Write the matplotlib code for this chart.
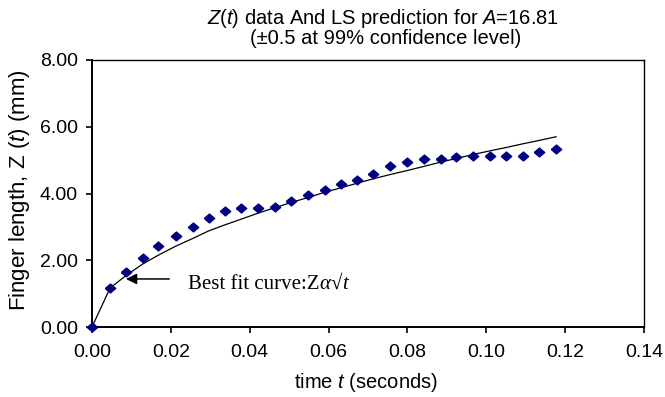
import matplotlib
matplotlib.use("Agg")
import matplotlib.pyplot as plt
from matplotlib.ticker import FormatStrFormatter, MultipleLocator

plt.rcParams['font.family'] = ['Liberation Sans', 'DejaVu Sans']
plt.rcParams['mathtext.fontset'] = 'custom'
plt.rcParams['mathtext.it'] = 'Liberation Sans:italic'
plt.rcParams['mathtext.rm'] = 'Liberation Sans'

# measured data Z(t)
t_data = [0.0, 0.0046, 0.0086, 0.0129, 0.0168, 0.0212, 0.0255, 0.0296, 0.0337,
          0.0378, 0.0421, 0.0465, 0.0505, 0.0548, 0.0591, 0.0631, 0.0673, 0.0713,
          0.0757, 0.0800, 0.0841, 0.0884, 0.0924, 0.0967, 0.1010, 0.1051, 0.1093,
          0.1134, 0.1177]
z_data = [0.00, 1.18, 1.66, 2.06, 2.42, 2.73, 3.00, 3.26, 3.48,
          3.56, 3.56, 3.61, 3.78, 3.97, 4.11, 4.28, 4.41, 4.58,
          4.82, 4.93, 5.03, 5.02, 5.08, 5.12, 5.12, 5.12, 5.12,
          5.25, 5.32]

# LS prediction curve
z_fit = [0.00, 1.17, 1.54, 1.89, 2.15, 2.42, 2.65, 2.88, 3.06,
         3.23, 3.41, 3.58, 3.73, 3.88, 4.04, 4.17, 4.31, 4.44,
         4.57, 4.69, 4.81, 4.94, 5.05, 5.17, 5.28, 5.38, 5.49,
         5.59, 5.70]

fig = plt.figure(figsize=(6.65, 3.97), dpi=100)
ax = fig.add_axes([92 / 665, 70 / 397, 552 / 665, 267 / 397])

diamond = [(-1, 0), (0, -0.85), (1, 0), (0, 0.85), (-1, 0)]
ax.plot(t_data, z_fit, color='black', linewidth=0.9, zorder=2)
ax.plot(t_data, z_data, linestyle='none', marker=diamond, markersize=7.5,
        color='#000080', zorder=3, clip_on=False)

ax.set_xlim(0, 0.14)
ax.set_ylim(0, 8)
ax.xaxis.set_major_locator(MultipleLocator(0.02))
ax.yaxis.set_major_locator(MultipleLocator(2))
ax.xaxis.set_major_formatter(FormatStrFormatter('%.2f'))
ax.yaxis.set_major_formatter(FormatStrFormatter('%.2f'))
ax.tick_params(direction='out', length=4, width=1.2, labelsize=14)
ax.tick_params(axis='x', pad=8.5)
ax.tick_params(axis='y', pad=6)

for side in ['left', 'bottom']:
    ax.spines[side].set_linewidth(1.4)
for side in ['top', 'right']:
    ax.spines[side].set_linewidth(1.0)

fig.text(366 / 665, 1 - 388 / 397, 'time $t$ (seconds)', fontsize=14.5,
         ha='center', va='baseline')
fig.text(20 / 665, 1 - 190 / 397, 'Finger length, Z ($t$) (mm)', fontsize=16,
         ha='center', va='center', rotation=90)

fig.text(383 / 665, 1 - 24 / 397, '$Z$($t$) data And LS prediction for $A$=16.81',
         ha='center', va='baseline', fontsize=14.5)
fig.text(386 / 665, 1 - 44 / 397, '(\u00b10.5 at 99% confidence level)',
         ha='center', va='baseline', fontsize=14.5)

ax.annotate('', xy=(0.0079, 1.44), xytext=(0.0203, 1.44),
            arrowprops=dict(arrowstyle='-|>', color='black', lw=1.1,
                            mutation_scale=16))

serif = ['Liberation Serif', 'DejaVu Serif']
fs = 15
prev = ax.text(0.0244, 1.14, 'Best fit curve:Z', fontsize=fs, family=serif,
               va='baseline', ha='left')
for piece, style in [('\u03b1', 'italic'), ('\u221a', 'normal'), ('t', 'italic')]:
    prev = ax.annotate(piece, xy=(1, 0), xycoords=prev, fontsize=fs,
                       family=serif, style=style, va='bottom', ha='left')

fig.savefig('out.png', dpi=100)
